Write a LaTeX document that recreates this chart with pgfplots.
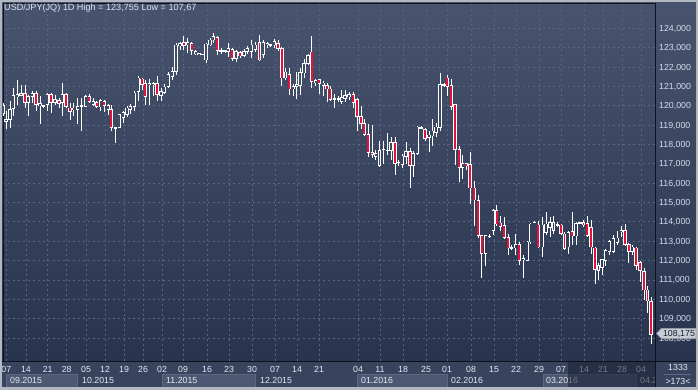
\documentclass[border=0pt]{standalone}
\usepackage{fontspec}
\setmainfont{Liberation Sans}
\usepackage{pgfplots}
\pgfplotsset{compat=1.18}
\usepackage{pgfplotstable}

\definecolor{bgtop}{RGB}{72,84,110}
\definecolor{bgbot}{RGB}{40,51,78}
\definecolor{band}{RGB}{56,67,93}
\definecolor{boxfill}{RGB}{76,88,114}
\definecolor{boxline}{RGB}{92,104,130}
\definecolor{gridcol}{RGB}{88,102,132}
\definecolor{axisdark}{RGB}{14,18,28}
\definecolor{candlered}{RGB}{226,18,58}
\definecolor{ylabcol}{RGB}{210,222,238}
\definecolor{xlabcol}{RGB}{228,234,242}
\definecolor{titlecol}{RGB}{218,228,240}
\definecolor{framecol}{RGB}{178,184,194}
\definecolor{markfill}{RGB}{200,204,212}
\definecolor{markdraw}{RGB}{150,156,168}
\definecolor{markt}{RGB}{25,30,45}
\definecolor{overlaycol}{RGB}{24,31,50}
% hollow-body interiors, matched to the background gradient by price band
\definecolor{in1}{RGB}{45,56,83}
\definecolor{in2}{RGB}{49,60,87}
\definecolor{in3}{RGB}{52,64,90}
\definecolor{in4}{RGB}{56,67,94}
\definecolor{in5}{RGB}{59,71,97}
\definecolor{in6}{RGB}{63,75,101}
\definecolor{in7}{RGB}{66,78,104}
\definecolor{in8}{RGB}{70,82,108}

\newcommand\lab{\fontsize{8.8pt}{10pt}\selectfont}
\newcommand\ttl{\fontsize{9.1pt}{11pt}\selectfont}

\pgfplotstableread{
x o h l c
3.3 119.60 120.15 119.45 120.00
6.0 119.20 119.72 118.78 119.28
10.0 119.29 120.23 118.87 119.81
13.3 119.84 120.92 119.46 120.52
17.3 120.49 121.35 120.06 120.57
21.0 120.55 121.09 120.52 120.62
28.3 120.15 120.58 119.46 120.49
32.3 120.49 120.75 120.15 120.62
40.0 120.00 120.49 119.04 120.10
43.3 119.98 120.05 119.90 120.02
47.3 120.06 120.66 119.72 120.58
55.0 120.15 120.58 120.06 120.32
62.3 120.15 121.20 119.46 120.58
73.7 119.80 120.15 119.46 119.89
77.7 119.81 120.41 119.04 119.98
81.7 119.97 120.41 118.70 120.00
85.7 119.98 120.58 119.95 120.49
93.3 120.06 120.41 119.98 120.23
100.7 119.94 120.36 119.72 120.28
108.3 119.81 120.10 119.50 120.00
119.3 118.87 119.60 118.85 119.55
123.3 119.38 119.72 119.10 119.64
127.0 119.55 120.00 119.43 119.89
130.3 119.81 120.10 119.60 119.98
134.3 119.98 120.75 119.72 120.66
138.3 120.75 121.52 120.23 121.43
149.3 121.10 121.40 120.06 121.17
153.3 121.10 121.22 120.49 121.15
161.0 120.52 120.92 120.23 120.75
164.3 120.70 121.10 120.60 120.97
168.3 121.00 121.77 120.92 121.60
172.3 121.51 122.00 121.35 121.77
176.0 121.77 123.23 121.60 123.14
180.0 123.10 123.30 122.90 123.20
187.7 123.14 123.50 122.75 123.26
195.7 122.68 122.90 122.60 122.80
199.0 122.65 122.75 122.60 122.70
202.3 122.64 122.70 122.60 122.66
206.0 122.37 123.26 122.20 123.19
210.0 123.14 123.50 123.10 123.40
213.3 123.40 123.755 123.26 123.57
221.0 122.84 123.00 122.70 122.86
225.0 122.84 122.90 122.75 122.86
228.3 122.80 123.26 122.50 122.97
236.0 122.46 122.90 122.25 122.80
244.0 122.60 122.95 122.50 122.80
247.3 122.80 123.10 122.70 122.97
251.3 122.80 123.40 122.46 123.14
255.3 122.90 123.30 122.80 123.14
263.3 122.63 123.40 122.46 123.26
267.3 123.14 123.30 123.00 123.23
270.7 123.13 123.20 123.05 123.15
274.3 123.14 123.45 122.97 123.31
285.5 121.43 121.95 121.35 121.75
293.3 120.87 121.10 120.50 121.00
296.7 121.00 121.77 120.36 121.10
300.0 121.04 121.95 120.57 121.72
304.0 121.69 122.40 121.43 122.17
308.0 122.17 122.70 122.10 122.58
315.7 121.18 121.40 121.00 121.30
323.3 121.04 121.30 120.50 121.18
334.3 120.35 120.60 119.90 120.37
338.3 120.35 120.50 120.20 120.37
341.7 120.23 120.80 120.10 120.41
345.0 120.36 120.80 120.20 120.55
349.0 120.45 120.70 120.30 120.60
375.7 117.38 117.70 117.20 117.55
379.5 116.90 118.20 116.86 117.70
383.3 117.74 118.20 117.00 117.76
387.3 117.69 118.60 117.45 117.71
391.0 117.70 118.40 117.20 118.10
398.3 117.06 117.20 116.90 117.08
402.3 116.95 117.50 116.80 117.40
406.0 117.36 118.15 117.00 117.64
413.3 116.90 117.65 116.30 117.53
417.3 117.53 118.95 117.45 118.90
421.0 118.86 118.95 118.80 118.88
429.0 118.38 118.70 117.60 118.49
432.3 118.44 119.30 117.90 118.70
436.0 118.60 119.10 118.40 118.90
440.0 118.87 121.69 118.70 121.09
444.0 121.08 121.20 120.95 121.10
462.7 116.81 117.45 116.20 117.00
485.7 112.36 113.33 111.73 113.30
489.3 113.25 113.35 113.15 113.27
493.3 113.55 114.66 113.33 114.57
511.7 112.64 112.78 112.53 112.66
515.7 112.65 113.38 112.28 112.82
523.3 112.05 112.28 111.08 112.10
527.3 112.02 112.99 111.97 112.96
530.7 112.96 113.94 112.87 113.89
534.3 113.97 114.02 113.95 113.99
542.3 112.70 114.23 112.19 113.84
546.0 113.47 114.49 113.30 113.89
550.0 113.72 114.23 113.21 113.98
553.5 113.55 114.32 113.38 113.98
557.5 113.83 113.98 113.72 113.85
568.3 112.70 113.55 112.35 113.45
576.0 113.27 114.00 112.80 113.90
580.0 113.93 114.00 113.88 113.95
598.5 111.50 111.85 111.00 111.73
602.0 111.63 112.10 111.25 112.07
605.7 112.02 112.60 111.70 112.53
609.3 112.45 113.05 112.30 113.00
613.3 112.48 113.30 112.40 113.13
617.3 112.93 113.55 112.80 113.17
621.3 113.48 113.80 113.20 113.56
632.3 112.48 112.80 112.30 112.70
}\updata

\pgfplotstableread{
x o h l c
25.0 120.62 121.09 119.89 120.15
36.0 120.62 120.75 119.72 120.06
51.0 120.58 120.66 119.64 120.15
59.0 120.28 120.40 119.90 120.10
66.0 120.58 120.66 119.90 119.98
70.0 119.89 120.15 119.29 119.72
89.3 120.49 120.62 120.15 120.23
96.7 120.15 120.23 119.89 119.98
104.3 120.23 120.30 119.70 120.00
111.3 119.81 120.06 118.69 118.87
115.7 118.87 118.92 118.10 118.83
142.0 121.38 121.43 120.83 121.09
145.3 121.17 121.35 120.06 120.49
157.0 121.14 121.52 120.23 120.58
183.8 123.28 123.60 122.90 123.10
191.7 123.20 123.30 122.60 122.85
217.3 123.54 123.60 122.60 122.85
232.3 122.92 123.00 122.30 122.46
240.0 122.75 122.85 122.45 122.57
259.5 123.26 123.66 122.29 122.37
278.0 123.23 123.40 122.85 122.97
281.8 122.97 123.06 121.04 121.43
289.3 121.60 121.95 120.57 120.87
311.7 122.78 123.60 120.90 121.26
319.3 121.35 121.40 120.60 121.14
327.0 121.04 121.20 120.20 120.87
330.3 120.87 121.00 120.23 120.32
353.3 120.58 120.70 119.90 120.15
357.0 120.32 120.40 118.70 119.43
361.0 119.46 120.00 118.80 119.09
364.3 119.09 119.30 118.45 118.52
368.3 118.52 119.04 117.33 117.58
372.3 117.60 119.00 117.30 117.49
395.0 118.10 118.40 116.40 117.02
410.0 117.64 117.80 115.73 116.90
425.0 118.78 118.85 118.20 118.30
447.3 121.43 121.60 120.50 121.00
451.3 121.05 121.40 119.80 119.98
455.0 120.06 120.10 116.95 117.75
459.3 117.75 117.90 116.06 116.81
466.3 117.00 117.05 116.70 116.90
470.0 116.98 117.60 114.90 115.75
474.3 115.75 116.10 113.80 115.13
478.3 115.10 115.40 113.15 113.30
481.7 113.30 113.33 111.08 112.36
496.7 114.57 114.86 113.81 113.89
500.3 113.94 114.32 113.55 113.77
504.3 113.80 114.23 113.13 113.21
508.3 113.21 113.38 112.28 112.65
519.3 112.82 112.96 111.77 112.02
538.3 113.84 114.06 112.65 112.70
561.0 113.84 113.89 113.30 113.38
564.5 113.38 113.47 112.53 112.62
572.3 113.50 114.50 112.79 113.27
583.5 113.95 114.10 113.75 113.85
587.3 113.90 114.30 113.20 113.30
591.0 113.73 114.10 112.35 112.70
595.0 112.65 112.70 110.80 111.55
625.0 113.56 113.90 112.75 112.82
628.8 112.82 112.90 111.90 112.48
636.0 112.65 112.70 111.50 111.76
640.0 111.90 112.00 110.90 111.50
644.0 111.45 111.60 109.95 110.48
647.5 110.48 110.70 109.30 109.91
651.0 109.88 110.10 107.67 108.175
}\downdata

\pgfplotsset{
  eb/.style={draw=none, mark=none, error bars/y dir=both, error bars/y explicit,
    error bars/error mark=none,
    error bars/error bar style={draw=#1, solid}},
  wick/.style={eb=white, error bars/error bar style={line width=1pt}},
  bodyout/.style={eb=white, error bars/error bar style={line width=3.4pt}},
  bodyin/.style={eb=#1, error bars/error bar style={line width=1.8pt}},
}

\begin{document}
\begin{tikzpicture}[x=1pt,y=-1pt]
\useasboundingbox (0,0) rectangle (698,389);
% background
\shade[top color=bgtop, bottom color=bgbot] (0,0) rectangle (698,361);
\fill[band] (0,361) rectangle (698,389);
% month boxes
\foreach \a/\b in {6/77,162/255,357/447,543/636}
  \filldraw[fill=boxfill, draw=boxline, line width=0.6pt] (\a,374.5) rectangle (\b,387);
\foreach \a in {77,255,447,636}
  \draw[boxline, line width=0.6pt] (\a,374.5) -- (\a,387);
\foreach \xx/\tt in {10/09.2015,82/10.2015,166/11.2015,260/12.2015,361/01.2016,451/02.2016,546/03.2016}
  \node[anchor=west, font=\lab, text=xlabcol, inner sep=0pt] at (\xx,380.7) {\tt};
\begin{scope}
\clip (636,374) rectangle (654.5,388);
\node[anchor=west, font=\lab, text=xlabcol, inner sep=0pt] at (640,380.7) {04.2};
\end{scope}

\begin{axis}[
  at={(3pt,-361pt)}, anchor=south west,
  scale only axis, width=652pt, height=358pt,
  xmin=3, xmax=655, ymin=106.81, ymax=125.31,
  axis line style={draw=axisdark, line width=1pt},
  major tick length=0pt,
  xtick={6.3,26,47.7,66.7,86,105,124,143,162,183,207,229,252,275,297,319,358,380,403,426,447,471,494,516,539,561,584,603,622,641},
  xticklabels={07,14,21,28,05,12,19,26,02,09,16,23,30,07,14,21,04,11,18,25,01,08,15,22,29,07,14,21,28,04},
  ytick={108,109,...,124},
  yticklabels={{108,000},{109,000},{110,000},{111,000},{112,000},{113,000},{114,000},{115,000},{116,000},{117,000},{118,000},{119,000},{120,000},{121,000},{122,000},{123,000},{124,000}},
  yticklabel pos=right,
  grid=major,
  major grid style={draw=gridcol, line width=0.8pt, dash pattern=on 2pt off 3pt},
  xticklabel style={font=\lab, text=xlabcol, inner sep=0pt, anchor=north, yshift=-4.8pt},
  yticklabel style={font=\lab, text=ylabcol, inner sep=0pt, anchor=west, xshift=4pt, text depth=0pt},
]
% wicks
\addplot[wick] table[x=x, y expr={(\thisrow{h}+\thisrow{l})/2}, y error expr={(\thisrow{h}-\thisrow{l})/2}] {\updata};
\addplot[wick] table[x=x, y expr={(\thisrow{h}+\thisrow{l})/2}, y error expr={(\thisrow{h}-\thisrow{l})/2}] {\downdata};
% body outlines
\addplot[bodyout] table[x=x, y expr={(\thisrow{o}+\thisrow{c})/2}, y error expr={abs(\thisrow{c}-\thisrow{o})/2+0.02}] {\updata};
\addplot[bodyout] table[x=x, y expr={(\thisrow{o}+\thisrow{c})/2}, y error expr={abs(\thisrow{c}-\thisrow{o})/2+0.02}] {\downdata};
% falling bodies: red fill
\addplot[bodyin=candlered] table[x=x, y expr={(\thisrow{o}+\thisrow{c})/2}, y error expr={max(abs(\thisrow{c}-\thisrow{o})/2-0.02,0)}] {\downdata};
% rising bodies: hollow (background colour by price band)
\addplot[restrict y to domain=100:111, bodyin=in1] table[x=x, y expr={(\thisrow{o}+\thisrow{c})/2}, y error expr={max(abs(\thisrow{c}-\thisrow{o})/2-0.02,0)}] {\updata};
\addplot[restrict y to domain=111:113, bodyin=in2] table[x=x, y expr={(\thisrow{o}+\thisrow{c})/2}, y error expr={max(abs(\thisrow{c}-\thisrow{o})/2-0.02,0)}] {\updata};
\addplot[restrict y to domain=113:115, bodyin=in3] table[x=x, y expr={(\thisrow{o}+\thisrow{c})/2}, y error expr={max(abs(\thisrow{c}-\thisrow{o})/2-0.02,0)}] {\updata};
\addplot[restrict y to domain=115:117, bodyin=in4] table[x=x, y expr={(\thisrow{o}+\thisrow{c})/2}, y error expr={max(abs(\thisrow{c}-\thisrow{o})/2-0.02,0)}] {\updata};
\addplot[restrict y to domain=117:119, bodyin=in5] table[x=x, y expr={(\thisrow{o}+\thisrow{c})/2}, y error expr={max(abs(\thisrow{c}-\thisrow{o})/2-0.02,0)}] {\updata};
\addplot[restrict y to domain=119:121, bodyin=in6] table[x=x, y expr={(\thisrow{o}+\thisrow{c})/2}, y error expr={max(abs(\thisrow{c}-\thisrow{o})/2-0.02,0)}] {\updata};
\addplot[restrict y to domain=121:123, bodyin=in7] table[x=x, y expr={(\thisrow{o}+\thisrow{c})/2}, y error expr={max(abs(\thisrow{c}-\thisrow{o})/2-0.02,0)}] {\updata};
\addplot[restrict y to domain=123:130, bodyin=in8] table[x=x, y expr={(\thisrow{o}+\thisrow{c})/2}, y error expr={max(abs(\thisrow{c}-\thisrow{o})/2-0.02,0)}] {\updata};
\end{axis}

% lines of bottom panel
\draw[axisdark, line width=1pt] (0,361) -- (698,361);
\draw[axisdark, line width=1pt] (655,361) -- (655,387);
% dim overlay
\fill[overlaycol, opacity=0.55] (567.5,361.6) rectangle (654.5,387);
% right corner
\node[font=\lab, text=xlabcol, inner sep=0pt] at (678,367.5) {1333};
\draw[boxline, line width=0.7pt] (664,374) -- (691,374);
\node[font=\lab, text=xlabcol, inner sep=0pt] at (678,381.3) {>173<};
% last price marker
\filldraw[fill=markfill, draw=markdraw, line width=0.6pt] (656.5,333.5) -- (661.5,328.3) -- (696,328.3) -- (696,338.7) -- (661.5,338.7) -- cycle;
\node[font=\lab, text=markt, inner sep=0pt, text depth=0pt] at (679,333.5) {108,175};
% title
\node[anchor=west, font=\ttl, text=titlecol, inner sep=0pt] at (4,8.5) {USD/JPY(JQ) 1D High = 123,755 Low = 107,67};
% outer frame
\draw[framecol, line width=4.5pt] (0,0) rectangle (698,389);
\end{tikzpicture}
\end{document}
